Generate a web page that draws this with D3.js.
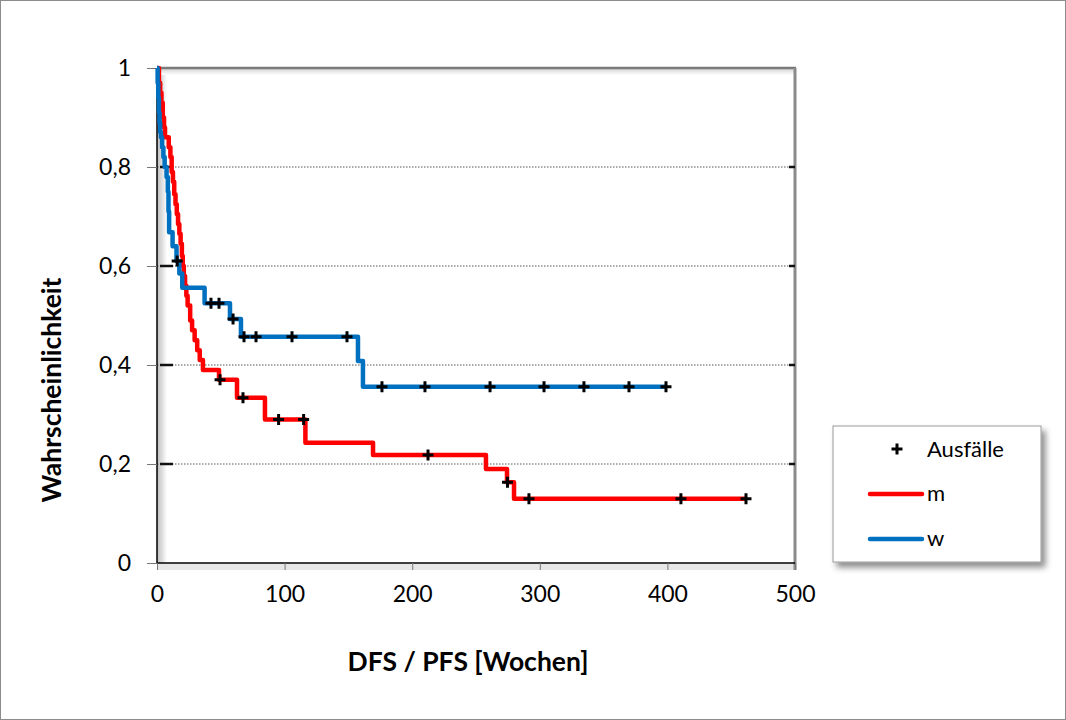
<!DOCTYPE html>
<html>
<head>
<meta charset="utf-8">
<script src="https://cdn.jsdelivr.net/npm/d3@7"></script>
<style>
  body { margin: 0; background: #fff; }
  svg { display: block; font-family: Lato, "Open Sans", sans-serif; }
</style>
</head>
<body>
<div id="chart"></div>
<script>
// Kaplan-Meier Stufen
var mTime = [0, 1.5, 2.5, 3.5, 4.5, 5.5, 6.3, 9.2, 10.5, 11.5, 12.5, 13.5, 14.5, 15.5, 16.5, 17.5, 18.5, 19.5, 20.2, 21, 22, 23, 24, 26, 27.5, 29.5, 31.5, 33.5, 36, 48.6, 62.7, 84.6, 116.3, 169.3, 257.8, 274.3, 279.8, 461.6];
var mSurv = [1, 0.97, 0.95, 0.93, 0.9, 0.88, 0.86, 0.84, 0.82, 0.79, 0.77, 0.745, 0.725, 0.705, 0.685, 0.665, 0.645, 0.62, 0.6, 0.58, 0.56, 0.54, 0.52, 0.49, 0.47, 0.45, 0.43, 0.41, 0.39, 0.37, 0.334, 0.29, 0.243, 0.218, 0.19, 0.163, 0.13, 0.13];
var wTime = [0, 0.5, 1, 1.5, 2, 2.5, 3.1, 4, 5, 6, 7.5, 8.5, 9, 9.5, 12.2, 15.3, 17.5, 19.8, 37.3, 57.2, 65.8, 157.5, 161.4, 398.9];
var wSurv = [1, 0.97, 0.94, 0.91, 0.89, 0.87, 0.86, 0.84, 0.82, 0.8, 0.78, 0.75, 0.71, 0.668, 0.64, 0.61, 0.585, 0.556, 0.525, 0.493, 0.457, 0.408, 0.356, 0.356];

// Ausfälle (zensierte Punkte)
var mCensT = [49.4, 67.4, 95.3, 114.9, 212.4, 274.7, 291.5, 410.6, 461.6];
var mCensS = [0.37, 0.334, 0.29, 0.29, 0.218, 0.163, 0.13, 0.13, 0.13];
var wCensT = [15.8, 42.3, 48.6, 59.6, 68.2, 77.6, 105.8, 148.9, 176.3, 210, 261, 303.3, 334.6, 369.9, 398.9];
var wCensS = [0.61, 0.525, 0.525, 0.493, 0.457, 0.457, 0.457, 0.457, 0.356, 0.356, 0.356, 0.356, 0.356, 0.356, 0.356];

var xTicks = [0, 100, 200, 300, 400, 500];
var yTicks = [0, 0.2, 0.4, 0.6, 0.8, 1];
var yTickLabels = ["0", "0,2", "0,4", "0,6", "0,8", "1"];
var seriesNames = ["m", "w"];
var legendMarkerName = "Ausfälle";

function drawChart() {
var W = 1066, H = 720;
var pLeft = 157, pRight = 795, pTop = 68, pBottom = 563;

var svg = d3.select("#chart").append("svg")
    .attr("width", W).attr("height", H);

var defs = svg.append("defs");
var gl = defs.append("linearGradient").attr("id", "shadeL").attr("x1", 0).attr("x2", 1).attr("y1", 0).attr("y2", 0);
gl.append("stop").attr("offset", 0).attr("stop-color", "#bdbdbd");
gl.append("stop").attr("offset", 1).attr("stop-color", "#fff");
var gt = defs.append("linearGradient").attr("id", "shadeT").attr("x1", 0).attr("x2", 0).attr("y1", 0).attr("y2", 1);
gt.append("stop").attr("offset", 0).attr("stop-color", "#d0d0d0");
gt.append("stop").attr("offset", 1).attr("stop-color", "#fff");
var sh = defs.append("filter").attr("id", "legShadow").attr("x", "-10%").attr("y", "-10%").attr("width", "130%").attr("height", "130%");
sh.append("feDropShadow").attr("dx", 4).attr("dy", 5).attr("stdDeviation", 3).attr("flood-color", "#000").attr("flood-opacity", 0.45);

// outer frame
svg.append("rect").attr("x", 0.5).attr("y", 0.5).attr("width", W - 1).attr("height", H - 1)
    .attr("fill", "#fff").attr("stroke", "#8c8c8c");

var x = d3.scaleLinear().domain([0, 500]).range([pLeft, pRight]);
var y = d3.scaleLinear().domain([0, 1]).range([pBottom, pTop]);

// plot area with slight inner shading
svg.append("rect").attr("x", pLeft).attr("y", pTop).attr("width", pRight - pLeft).attr("height", pBottom - pTop).attr("fill", "#fff");
svg.append("rect").attr("x", pLeft).attr("y", pTop).attr("width", 10).attr("height", pBottom - pTop).attr("fill", "url(#shadeL)");
svg.append("rect").attr("x", pLeft).attr("y", pTop).attr("width", pRight - pLeft).attr("height", 7).attr("fill", "url(#shadeT)");
svg.append("rect").attr("x", pLeft).attr("y", pBottom).attr("width", pRight - pLeft + 2).attr("height", 7).attr("fill", "#e6e6e6");
svg.append("line").attr("x1", pLeft).attr("x2", pRight + 1).attr("y1", pTop).attr("y2", pTop)
    .attr("stroke", "#7a7a7a").attr("stroke-width", 2.5);
svg.append("line").attr("x1", pRight).attr("x2", pRight).attr("y1", pTop).attr("y2", pBottom + 7)
    .attr("stroke", "#8a8a8a").attr("stroke-width", 3);

var inner = yTicks.filter(function(d){ return d > 0 && d < 1; });

// grid
svg.append("g").selectAll("line").data(inner)
  .enter().append("line")
    .attr("x1", pLeft).attr("x2", pRight)
    .attr("y1", function(d){ return y(d); }).attr("y2", function(d){ return y(d); })
    .attr("stroke", "#555").attr("stroke-width", 1).attr("stroke-dasharray", "1.5,1.5");

// inner tick marks (left and right)
svg.append("g").selectAll("line").data(inner)
  .enter().append("line")
    .attr("x1", pLeft + 3).attr("x2", pLeft + 16)
    .attr("y1", function(d){ return y(d); }).attr("y2", function(d){ return y(d); })
    .attr("stroke", "#111").attr("stroke-width", 2.5);
svg.append("g").selectAll("line").data(inner)
  .enter().append("line")
    .attr("x1", pRight - 6).attr("x2", pRight)
    .attr("y1", function(d){ return y(d); }).attr("y2", function(d){ return y(d); })
    .attr("stroke", "#111").attr("stroke-width", 2.5);

// axes
var yAxis = svg.append("g").attr("transform", "translate(" + pLeft + ",0)")
    .call(d3.axisLeft(y).tickValues(yTicks).tickSize(10).tickPadding(16)
      .tickFormat(function(d, i){ return yTickLabels[i]; }));
var xAxis = svg.append("g").attr("transform", "translate(0," + pBottom + ")")
    .call(d3.axisBottom(x).tickValues(xTicks).tickSize(7).tickPadding(16));
[yAxis, xAxis].forEach(function(a){
  a.select(".domain").attr("stroke", "#000").attr("stroke-width", 1.5);
  a.selectAll(".tick line").attr("stroke", "#777");
  a.selectAll("text").attr("font-size", 23).attr("fill", "#000").attr("font-family", "Lato, sans-serif");
});
yAxis.select(".domain").attr("d", "M0," + pBottom + "V" + pTop);
xAxis.select(".domain").attr("d", "M" + pLeft + ",0H" + pRight);

// curves
var line = d3.line()
    .x(function(d){ return x(d[0]); })
    .y(function(d){ return y(d[1]); })
    .curve(d3.curveStepAfter);
var mData = mTime.map(function(t, i){ return [t, mSurv[i]]; });
var wData = wTime.map(function(t, i){ return [t, wSurv[i]]; });

svg.append("path").datum(mData).attr("d", line)
    .attr("fill", "none").attr("stroke", "#ff0000").attr("stroke-width", 4.5).attr("stroke-linejoin", "round");
svg.append("path").datum(wData).attr("d", line)
    .attr("fill", "none").attr("stroke", "#0070c0").attr("stroke-width", 4.5).attr("stroke-linejoin", "round");

// censor markers
function plus(g, cx, cy) {
  g.append("path")
    .attr("d", "M" + (cx - 5.5) + "," + cy + "H" + (cx + 5.5) + "M" + cx + "," + (cy - 5.5) + "V" + (cy + 5.5))
    .attr("stroke", "#000").attr("stroke-width", 3);
}
var marks = svg.append("g");
mCensT.forEach(function(t, i){ plus(marks, x(t), y(mCensS[i])); });
wCensT.forEach(function(t, i){ plus(marks, x(t), y(wCensS[i])); });

// axis titles
svg.append("text").attr("x", 468).attr("y", 671).attr("text-anchor", "middle")
    .attr("font-size", 26.5).attr("font-weight", "bold").text("DFS / PFS [Wochen]");
svg.append("text").attr("transform", "translate(61,390) rotate(-90)").attr("text-anchor", "middle")
    .attr("font-size", 26.5).attr("font-weight", "bold").text("Wahrscheinlichkeit");

// legend
var leg = svg.append("g");
leg.append("rect").attr("x", 833).attr("y", 426).attr("width", 208).attr("height", 136)
    .attr("fill", "#fff").attr("stroke", "#9a9a9a").attr("filter", "url(#legShadow)");
plus(leg, 897, 449);
leg.append("text").attr("x", 927).attr("y", 457).attr("font-size", 22).text(legendMarkerName);
var legColors = ["#ff0000", "#0070c0"];
seriesNames.forEach(function(n, i){
  var ly = 494 + i * 45;
  leg.append("line").attr("x1", 870).attr("x2", 922).attr("y1", ly).attr("y2", ly)
    .attr("stroke", legColors[i]).attr("stroke-width", 4.5).attr("stroke-linecap", "round");
  leg.append("text").attr("x", 927).attr("y", ly + 7).attr("font-size", 22).text(n);
});
}

document.addEventListener('DOMContentLoaded', function(){ drawChart(); }, false);
</script>
</body>
</html>
